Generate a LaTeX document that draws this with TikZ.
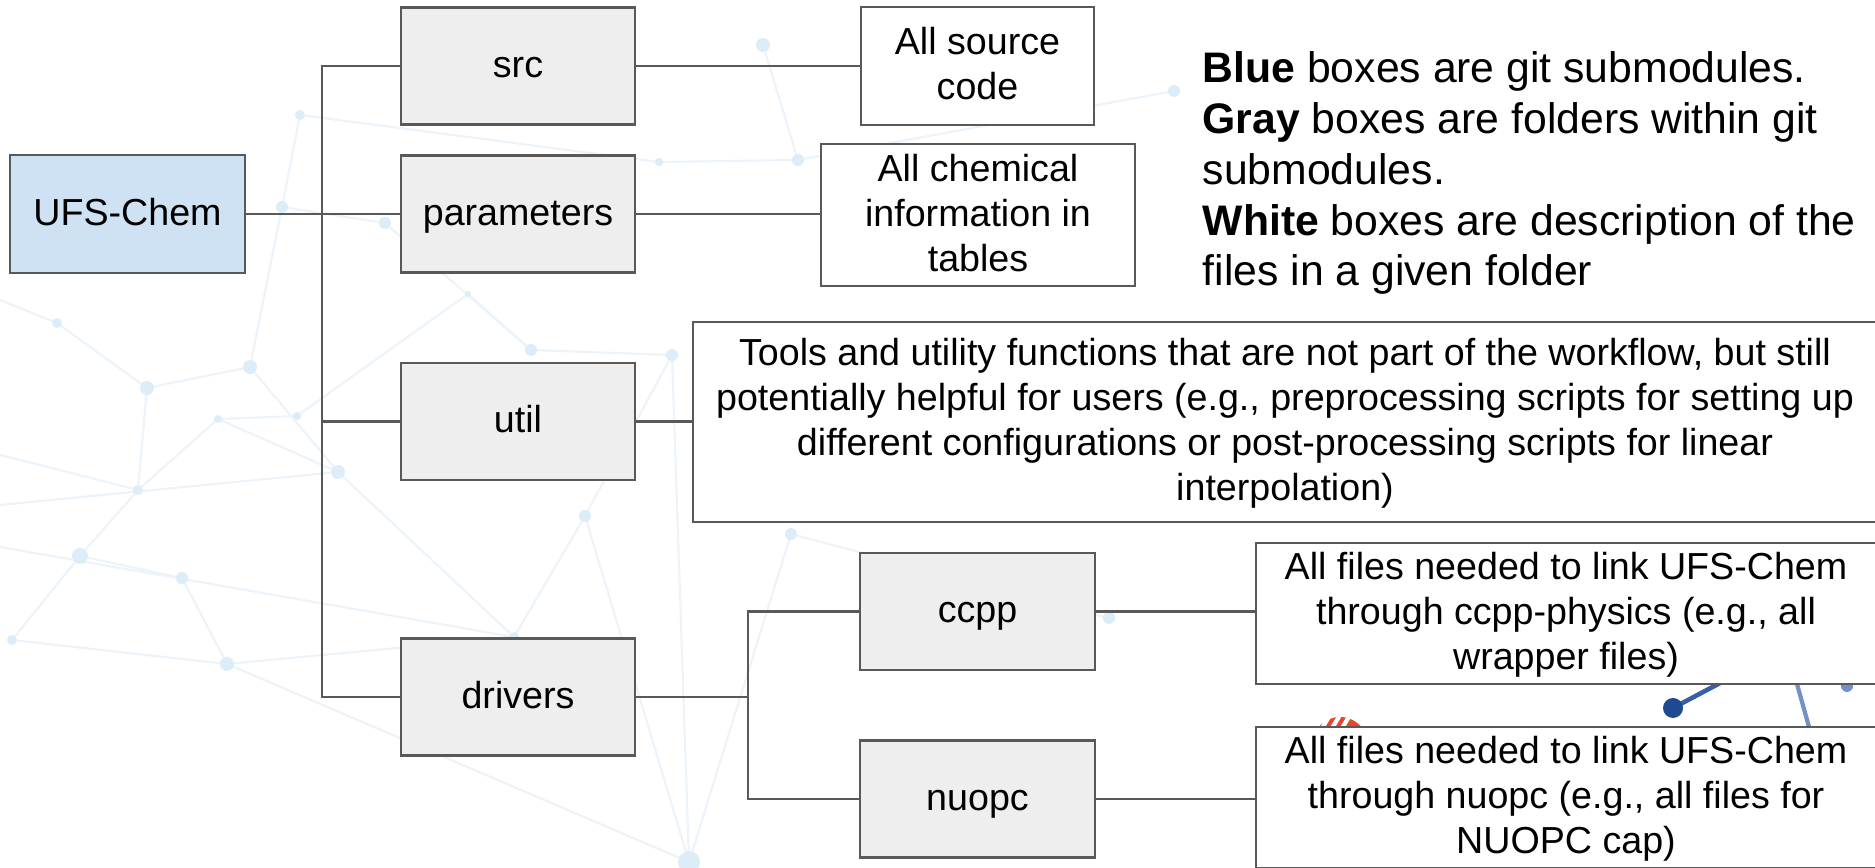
\documentclass[tikz,border=0pt]{standalone}
\usepackage{fontspec}
\setmainfont{Liberation Sans}
\definecolor{linec}{HTML}{595959}
\definecolor{grayfill}{HTML}{EEEEEE}
\definecolor{bluefill}{HTML}{CFE2F3}
\definecolor{netline}{HTML}{ECF4FA}
\definecolor{netdotc}{HTML}{DCEDF8}
\definecolor{dkblue}{HTML}{1F4A92}
\definecolor{midblue}{HTML}{7291C9}
\definecolor{redorange}{HTML}{E8462A}
\newcommand{\bst}{\rule[-0.23em]{0pt}{1.05em}}
\begin{document}
\begin{tikzpicture}[x=0.01cm,y=-0.01cm,
  box/.style={draw=linec, line width=0.6pt, inner sep=0pt, align=center,
    font=\fontsize{10.7}{12.8}\selectfont},
  folder/.style={box, fill=grayfill, minimum width=2.34cm, minimum height=1.17cm},
  desc/.style={box, fill=white},
  conn/.style={draw=linec, line width=0.6pt},
  net/.style={draw=netline, line width=0.6pt},
  ndot/.style={fill=netdotc, draw=none}
]
\useasboundingbox (0,0) rectangle (1875,868);
\fill[white] (0,0) rectangle (1875,868);

% faint background network
\begin{scope}
\clip (0,0) rectangle (1875,868);
\foreach \n/\x/\y in {1/57/323,2/147/388,3/250/367,4/138/490,5/80/556,6/182/578,7/227/664,
  8/12/640,9/338/472,10/297/416,11/585/516,12/689/862,13/791/534,14/1109/618,15/218/419,
  16/282/207,17/385/223,18/300/115,19/531/350,20/672/355,21/514/637,22/763/45,23/798/160,
  24/1174/91,25/659/162,26/468/294}
  \coordinate (n\n) at (\x,\y);
\coordinate (e1) at (0,300);
\coordinate (e2) at (0,505);
\coordinate (e3) at (0,547);
\coordinate (e4) at (0,455);
\draw[net] (e1) -- (n1) -- (n2) -- (n3) -- (n16) -- (n17) -- (n19) -- (n20) -- (n12);
\draw[net] (n2) -- (n4) -- (n5) -- (n6) -- (n7) -- (n12) -- (n11) -- (n21) -- (n9) -- (n15) -- (n4);
\draw[net] (n3) -- (n9) -- (e2);
\draw[net] (e3) -- (n21) -- (n7);
\draw[net] (n5) -- (n8) -- (n7);
\draw[net] (e4) -- (n4);
\draw[net] (n11) -- (n20);
\draw[net] (n13) -- (n14);
\draw[net] (n13) -- (n12);
\draw[net] (n22) -- (n23) -- (n25) -- (n18) -- (n16);
\draw[net] (n19) -- (n26) -- (n10) -- (n15);
\draw[net] (n23) -- (n24);
\foreach \n/\r in {1/5,2/7,3/7,4/5,5/8,6/6,7/7,8/5,9/7,10/4,11/6,12/11,13/6,14/6,15/4,
  16/6,17/6,18/5,19/6,20/6,21/5,22/7,23/6,24/6,25/4,26/3}
  \fill[ndot] (n\n) circle[radius=\r];
% bottom-right partial picture
\fill[redorange] (1340,745) circle[radius=28];
\draw[white, line width=1.2pt] (1318,735) -- (1330,715) (1328,735) -- (1340,715) (1338,735) -- (1350,715);
\draw[midblue, line width=1.2pt] (1797,684) -- (1809,727);
\fill[midblue] (1847,686) circle[radius=6];
\draw[dkblue!70!midblue, line width=1.3pt] (1673,708) -- (1722,682);
\fill[dkblue] (1673,708) circle[radius=10];
\end{scope}

% boxes
\node[box, fill=bluefill, minimum width=2.35cm, minimum height=1.18cm] (ufs) at (127.5,214) {\bst UFS-Chem};
\node[folder] (src) at (518,66) {\bst src};
\node[folder] (params) at (518,214) {\bst parameters};
\node[folder] (util) at (518,421.5) {\bst util};
\node[folder] (drivers) at (518,697) {\bst drivers};
\node[folder] (ccpp) at (977.5,611.5) {\bst ccpp};
\node[folder] (nuopc) at (977.5,799) {\bst nuopc};

\node[desc, minimum width=2.33cm, minimum height=1.18cm] (srcdesc) at (977.5,66) {\bst All source\\code\bst};
\node[desc, minimum width=3.14cm, minimum height=1.42cm] (paramdesc) at (978,215) {\bst All chemical\\information in\\tables\bst};
\node[desc, minimum width=11.84cm, minimum height=2.0cm] (utildesc) at (1285,422)
  {\bst Tools and utility functions that are not part of the workflow, but still\\
   potentially helpful for users (e.g., preprocessing scripts for setting up\\
   different configurations or post-processing scripts for linear\\
   interpolation)\bst};
\node[desc, minimum width=6.2cm, minimum height=1.41cm] (ccppdesc) at (1566,613.5)
  {\bst All files needed to link UFS-Chem\\through ccpp-physics (e.g., all\\wrapper files)\bst};
\node[desc, minimum width=6.2cm, minimum height=1.41cm] (nuopcdesc) at (1566,797.5)
  {\bst All files needed to link UFS-Chem\\through nuopc (e.g., all files for\\NUOPC cap)\bst};

% legend
\node[anchor=north west, inner sep=0pt, align=left,
      font=\fontsize{12.15}{14.45}\selectfont] (legend) at (1202,51)
  {\textbf{Blue} boxes are git submodules.\\
   \textbf{Gray} boxes are folders within git\\
   submodules.\\
   \textbf{White} boxes are description of the\\
   files in a given folder};

% connectors
\coordinate (trunk) at (322,0);
\coordinate (sub) at (748,0);
\draw[conn] (ufs.east) -- (params.west);
\draw[conn] (src.west) -- (src.west -| trunk) |- (drivers.west);
\draw[conn] (util.west) -- (util.west -| trunk);
\draw[conn] (src.east) -- (srcdesc.west);
\draw[conn] (params.east) -- (params.east -| paramdesc.west);
\draw[conn] (util.east) -- (util.east -| utildesc.west);
\draw[conn] (drivers.east) -- (drivers.east -| sub);
\draw[conn] (ccpp.west) -- (ccpp.west -| sub) |- (nuopc.west);
\draw[conn] (ccpp.east) -- (ccpp.east -| ccppdesc.west);
\draw[conn] (nuopc.east) -- (nuopc.east -| nuopcdesc.west);
\end{tikzpicture}
\end{document}
